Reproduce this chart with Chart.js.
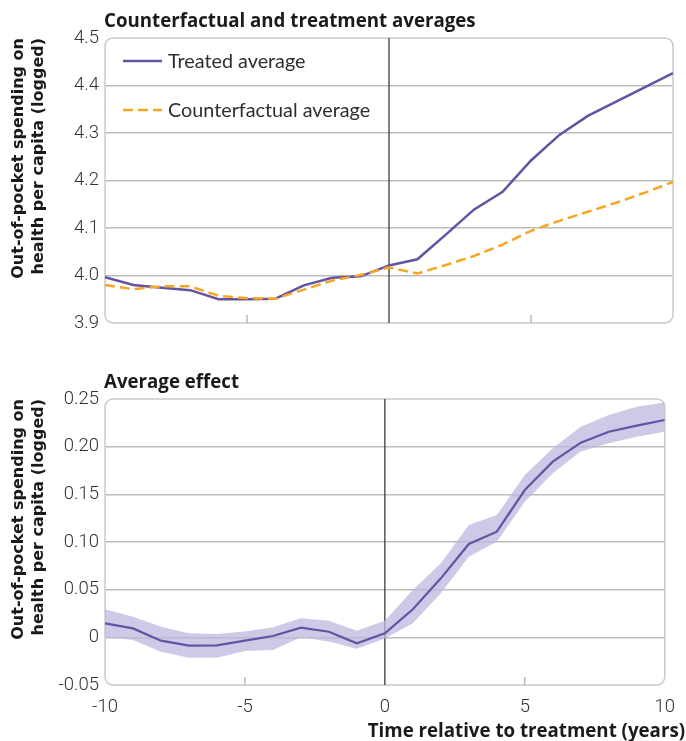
<!DOCTYPE html>
<html>
<head>
<meta charset="utf-8">
<script src="https://cdn.jsdelivr.net/npm/chart.js@4.4.0/dist/chart.umd.min.js"></script>
<style>
  html, body { margin: 0; padding: 0; background: #fff; }
  #wrap { position: relative; width: 686px; height: 741px; }
  canvas { position: absolute; left: 0; }
  #topChart { top: 0; }
  #bottomChart { top: 340px; }
</style>
</head>
<body>
<div id="wrap">
  <canvas id="topChart" width="686" height="340"></canvas>
  <canvas id="bottomChart" width="686" height="401"></canvas>
</div>
<script>
// years relative to treatment
const years = [-10, -9, -8, -7, -6, -5, -4, -3, -2, -1, 0, 1, 2, 3, 4, 5, 6, 7, 8, 9, 10];

// top panel
const treatedAvg = [3.996, 3.980, 3.974, 3.969, 3.950, 3.950, 3.951, 3.979, 3.995, 3.998, 4.021, 4.034,
  4.086, 4.139, 4.176, 4.242, 4.296, 4.336, 4.366, 4.396, 4.426];
const counterfactualAvg = [3.980, 3.971, 3.977, 3.977, 3.957, 3.952, 3.951, 3.970, 3.989, 4.001, 4.017, 4.004,
  4.022, 4.041, 4.065, 4.094, 4.115, 4.134, 4.153, 4.174, 4.197];

// bottom panel
const avgEffect = [0.0147, 0.0094, -0.0035, -0.0087, -0.0084, -0.0035, 0.0014, 0.0101, 0.0059, -0.0063, 0.0042,
  0.0294, 0.0619, 0.0979, 0.1108, 0.1545, 0.1843, 0.2042, 0.2157, 0.2220, 0.2280];
const effectUpper = [0.0294, 0.0217, 0.0112, 0.0042, 0.0035, 0.0060, 0.0105, 0.0199, 0.0175, 0.0070, 0.0175,
  0.0497, 0.0776, 0.1178, 0.1283, 0.1703, 0.1983, 0.2210, 0.2332, 0.2420, 0.2462];
const effectLower = [0.0000, -0.0028, -0.0150, -0.0213, -0.0213, -0.0143, -0.0133, 0.0000, -0.0045, -0.0119, -0.0011,
  0.0147, 0.0462, 0.0846, 0.1003, 0.1423, 0.1720, 0.1948, 0.2035, 0.2105, 0.2157];

const xTicks = [-10, -5, 0, 5, 10];
const topYTicks = [3.9, 4.0, 4.1, 4.2, 4.3, 4.4, 4.5];
const bottomYTicks = [-0.05, 0, 0.05, 0.10, 0.15, 0.20, 0.25];

const yTitle = ['Out-of-pocket spending on', 'health per capita (logged)'];
const purple = '#6552a2';
const orange = '#f6a623';
const band = 'rgba(190, 183, 222, 0.75)';
const gridGrey = '#bcbcbc';
const tickFont = { family: 'Roboto', size: 18.5, weight: '300' };
const headFont = '700 18.7px "Open Sans"';

const pts = (vals) => vals.map((v, i) => ({ x: years[i], y: v }));

// rounded plot frame, zero line and the short -5 / 5 tick marks
const framePlugin = {
  id: 'frame',
  beforeDatasetsDraw(chart) {
    const { ctx, chartArea: a, scales } = chart;
    ctx.save();
    ctx.strokeStyle = '#c9c9c9';
    ctx.lineWidth = 1.5;
    ctx.beginPath();
    ctx.roundRect(a.left, a.top, a.right - a.left, a.bottom - a.top, 8);
    ctx.stroke();
    ctx.strokeStyle = '#a8a8a8';
    ctx.lineWidth = 1.2;
    [-5, 5].forEach(v => {
      const x = scales.x.getPixelForValue(v);
      ctx.beginPath();
      ctx.moveTo(x, a.bottom);
      ctx.lineTo(x, a.bottom - 8);
      ctx.stroke();
    });
    ctx.strokeStyle = '#2b2b2b';
    ctx.lineWidth = 1.2;
    const x0 = scales.x.getPixelForValue(0);
    ctx.beginPath();
    ctx.moveTo(x0, a.top);
    ctx.lineTo(x0, a.bottom);
    ctx.stroke();
    ctx.restore();
  },
  afterDraw(chart, args, opts) {
    const { ctx, chartArea: a } = chart;
    ctx.save();
    ctx.fillStyle = '#1a1a1a';
    ctx.font = headFont;
    ctx.textBaseline = 'alphabetic';
    ctx.textAlign = 'left';
    ctx.fillText(opts.title, a.left - 1, a.top - 11);
    if (opts.xTitle) {
      ctx.textAlign = 'right';
      ctx.fillText(opts.xTitle, 685, chart.height - 4);
    }
    ctx.restore();
  }
};

// legend inside the top plot
const legendPlugin = {
  id: 'innerLegend',
  afterDraw(chart) {
    const { ctx, chartArea: a } = chart;
    ctx.save();
    chart.data.datasets.forEach((ds, i) => {
      const y = a.top + 23 + i * 49;
      ctx.strokeStyle = ds.borderColor;
      ctx.lineWidth = ds.borderWidth;
      ctx.setLineDash(ds.borderDash || []);
      ctx.beginPath();
      ctx.moveTo(a.left + 18, y);
      ctx.lineTo(a.left + 57, y);
      ctx.stroke();
      ctx.setLineDash([]);
      ctx.fillStyle = '#2e2e2e';
      ctx.font = '400 19.8px Lato';
      ctx.textBaseline = 'middle';
      ctx.fillText(ds.label, a.left + 63, y + 1);
    });
    ctx.restore();
  }
};

function yAxis(min, max, ticks, fmt) {
  return {
    type: 'linear',
    min: min, max: max,
    afterBuildTicks: (s) => { s.ticks = ticks.map(v => ({ value: v })); },
    afterFit: (s) => { s.width = 105; },
    border: { display: false },
    grid: {
      drawTicks: false,
      lineWidth: 1.5,
      color: (c) => (c.tick && (Math.abs(c.tick.value - min) < 1e-9 || Math.abs(c.tick.value - max) < 1e-9)) ? 'transparent' : gridGrey
    },
    ticks: { padding: 6, color: '#333', font: tickFont, callback: fmt },
    title: {
      display: true, text: yTitle, align: 'end',
      color: '#1a1a1a',
      font: { family: 'DejaVu Sans', size: 16, weight: 'bold', lineHeight: 1.3 },
      padding: { top: 8, bottom: 0 }
    }
  };
}

function xAxis(showLabels, height) {
  return {
    type: 'linear',
    min: -10, max: 10,
    afterBuildTicks: (s) => { s.ticks = xTicks.map(v => ({ value: v })); },
    afterFit: (s) => { s.height = height; },
    border: { display: false },
    grid: { display: false, drawTicks: false },
    ticks: { display: showLabels, padding: 11, color: '#333', font: tickFont, callback: (v) => String(v) }
  };
}

new Chart(document.getElementById('topChart'), {
  type: 'line',
  data: {
    datasets: [
      { label: 'Treated average', data: pts(treatedAvg), borderColor: purple, borderWidth: 2.5, pointRadius: 0, order: 2 },
      { label: 'Counterfactual average', data: pts(counterfactualAvg), borderColor: orange, borderWidth: 2.5, borderDash: [10, 5], pointRadius: 0, order: 1 }
    ]
  },
  options: {
    responsive: false, animation: false,
    layout: { padding: { top: 38, right: 13, bottom: 0, left: 0 } },
    plugins: { legend: { display: false }, tooltip: { enabled: false }, frame: { title: 'Counterfactual and treatment averages' } },
    scales: {
      x: xAxis(false, 17),
      y: yAxis(3.9, 4.5, topYTicks, (v) => v.toFixed(1))
    }
  },
  plugins: [framePlugin, legendPlugin]
});

new Chart(document.getElementById('bottomChart'), {
  type: 'line',
  data: {
    datasets: [
      { label: 'lower', data: pts(effectLower), borderWidth: 0, borderColor: 'transparent', pointRadius: 0, fill: false, order: 3 },
      { label: 'upper', data: pts(effectUpper), borderWidth: 0, borderColor: 'transparent', pointRadius: 0, fill: '-1', backgroundColor: band, order: 2 },
      { label: 'Average effect', data: pts(avgEffect), borderColor: purple, borderWidth: 2.2, pointRadius: 0, fill: false, order: 1 }
    ]
  },
  options: {
    responsive: false, animation: false,
    layout: { padding: { top: 59, right: 13, bottom: 0, left: 0 } },
    plugins: {
      legend: { display: false }, tooltip: { enabled: false },
      frame: { title: 'Average effect', xTitle: 'Time relative to treatment (years)' }
    },
    scales: {
      x: xAxis(true, 56),
      y: yAxis(-0.05, 0.25, bottomYTicks, (v) => Math.abs(v) < 1e-9 ? '0' : v.toFixed(2))
    }
  },
  plugins: [framePlugin]
});
</script>
</body>
</html>
